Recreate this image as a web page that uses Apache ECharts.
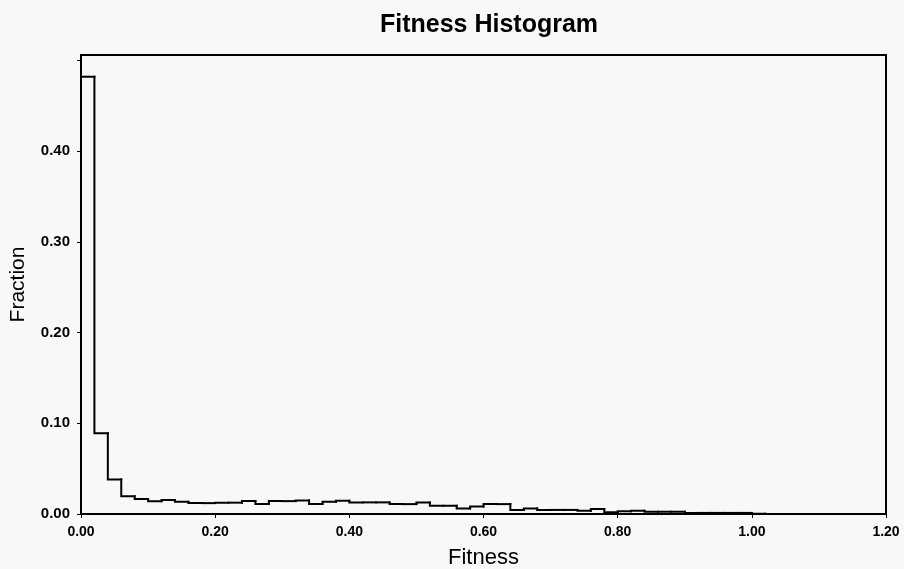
<!DOCTYPE html>
<html>
<head>
<meta charset="utf-8">
<script src="https://cdn.jsdelivr.net/npm/echarts@6/dist/echarts.min.js"></script>
<style>
html,body{margin:0;padding:0;background:#f8f8f8;}
#c{width:904px;height:569px;}
</style>
</head>
<body>
<div id="c"></div>
<script>
// Histogram bins of width 0.02 starting at 0
const binWidth = 0.02;
const fractions = [
  0.482, 0.089, 0.038, 0.0197, 0.0165, 0.014, 0.0155, 0.0135, 0.012, 0.012,
  0.0125, 0.0125, 0.0142, 0.011, 0.0142, 0.0142, 0.0150, 0.0109, 0.0135, 0.0146,
  0.0128, 0.0128, 0.0128, 0.0109, 0.0109, 0.0128, 0.0091, 0.0091, 0.0062, 0.0082,
  0.0109, 0.0109, 0.0045, 0.0062, 0.0045, 0.0045, 0.0045, 0.0036, 0.0055, 0.0018,
  0.003, 0.0035, 0.0025, 0.0025, 0.0025, 0.0012, 0.0012, 0.0012, 0.0012, 0.0012,
  0.0003
];
const xTicks = [0, 0.2, 0.4, 0.6, 0.8, 1.0, 1.2];
const yTicks = [0, 0.1, 0.2, 0.3, 0.4];

// one item per bin: [left edge, right edge, value, previous bin's value]
const binItems = fractions.map((v, i) => [
  +(i * binWidth).toFixed(4), +((i + 1) * binWidth).toFixed(4), v, i === 0 ? 0 : fractions[i - 1]
]);
// closing drop after the last bin
binItems.push([+(fractions.length * binWidth).toFixed(4), +(fractions.length * binWidth).toFixed(4), 0, fractions[fractions.length - 1]]);

const chart = echarts.init(document.getElementById('c'), null, {renderer: 'canvas'});
const font = '"Liberation Sans", Arial, sans-serif';
chart.setOption({
  backgroundColor: '#f8f8f8',
  animation: false,
  title: {
    text: 'Fitness Histogram',
    left: 484, top: 8, textAlign: 'center',
    textStyle: {fontFamily: font, fontSize: 25, fontWeight: 'bold', color: '#000'}
  },
  grid: {
    left: 81, right: 18, top: 55, bottom: 55,
    outerBoundsMode: 'none', containLabel: false,
    show: true, borderColor: '#000', borderWidth: 2, backgroundColor: '#f8f8f8'
  },
  xAxis: {
    type: 'value', min: xTicks[0], max: xTicks[xTicks.length - 1], interval: 0.2,
    name: 'Fitness', nameLocation: 'middle', nameGap: 33,
    nameTextStyle: {fontFamily: font, fontSize: 22, color: '#000'},
    axisLine: {show: true, onZero: false, lineStyle: {color: '#000', width: 2}},
    axisTick: {show: true, inside: false, length: 4, lineStyle: {color: '#000', width: 1}},
    axisLabel: {fontFamily: font, fontSize: 14, fontWeight: 'bold', color: '#000', margin: 11,
      formatter: v => v.toFixed(2)},
    splitLine: {show: false}
  },
  yAxis: {
    type: 'value', min: yTicks[0], max: 0.506, interval: 0.1,
    name: 'Fraction', nameLocation: 'middle', nameGap: 52,
    nameTextStyle: {fontFamily: font, fontSize: 21, color: '#000'},
    axisLine: {show: true, onZero: false, lineStyle: {color: '#000', width: 2}},
    axisTick: {show: true, inside: false, length: 4, lineStyle: {color: '#000', width: 1}},
    axisLabel: {fontFamily: font, fontSize: 15, fontWeight: 'bold', color: '#000', margin: 11,
      showMaxLabel: false,
      formatter: v => (yTicks.some(t => Math.abs(t - v) < 1e-9) ? v.toFixed(2) : '')},
    splitLine: {show: false}
  },
  series: [{
    type: 'custom',
    data: binItems,
    encode: {x: [0, 1], y: [2, 3]},
    clip: false,
    renderItem: (params, api) => {
      const pPrev = api.coord([api.value(0), api.value(3)]);
      const pUp = api.coord([api.value(0), api.value(2)]);
      const pEnd = api.coord([api.value(1), api.value(2)]);
      return {
        type: 'polyline',
        shape: {points: [pPrev, pUp, pEnd]},
        style: {stroke: '#000', lineWidth: 2, fill: null, lineJoin: 'miter', lineCap: 'square'}
      };
    }
  }]
});
</script>
</body>
</html>
